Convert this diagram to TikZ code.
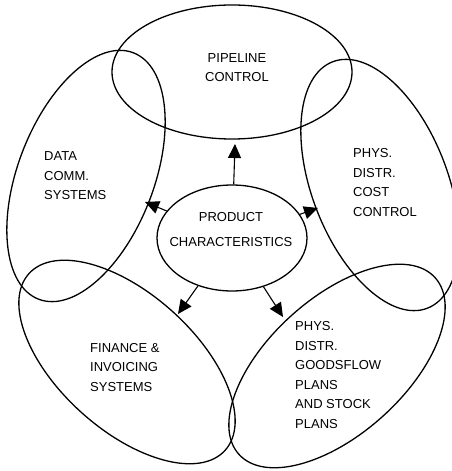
\documentclass[tikz,border=0pt]{standalone}
\usepackage{fontspec}
\setmainfont{Liberation Sans}
\usetikzlibrary{shapes.geometric,arrows.meta}
\begin{document}
\begin{tikzpicture}[x=1pt,y=1pt,
  oval/.style={draw, ellipse, line width=1.3pt, inner sep=0pt},
  lbl/.style={font=\fontsize{13}{19.5}\selectfont, inner sep=0pt, align=left},
  arr/.style={line width=1.1pt, -{Triangle[length=14pt,width=13pt]}}]
\useasboundingbox (0,0) rectangle (452,471);
% outer ovals
\node[oval, minimum width=240pt, minimum height=134pt] (pipe) at (232,399) {};
\node[oval, minimum width=264pt, minimum height=136pt, rotate=69] (data) at (86,295) {};
\node[oval, minimum width=264pt, minimum height=136pt, rotate=-69] (cost) at (380,286) {};
\node[oval, minimum width=264pt, minimum height=136pt, rotate=-42] (fin) at (127,109) {};
\node[oval, minimum width=264pt, minimum height=136pt, rotate=42] (goods) at (337,105) {};
% centre oval
\node[oval, minimum width=150pt, minimum height=106pt] (prod) at (232,233) {};
% texts
\node[lbl, align=center] (pipetxt) at (237,403.5) {PIPELINE\\CONTROL};
\node[lbl, anchor=west] (datatxt) at (44,295) {DATA\\COMM.\\SYSTEMS};
\node[lbl, anchor=west] (costtxt) at (353,288.5) {PHYS.\\DISTR.\\COST\\CONTROL};
\node[lbl, align=center, font=\fontsize{13}{25}\selectfont] (prodtxt) at (231,241.5) {PRODUCT\\CHARACTERISTICS};
\node[lbl, anchor=west] (fintxt) at (90,103.5) {FINANCE \&\\INVOICING\\SYSTEMS};
\node[lbl, anchor=west] (goodstxt) at (295,96) {PHYS.\\DISTR.\\GOODSFLOW\\PLANS\\AND STOCK\\PLANS};
% arrow tips
\coordinate (tUp) at (235,327);
\coordinate (tLeft) at (145,269);
\coordinate (tRight) at (318,263);
\coordinate (tBL) at (178,157);
\coordinate (tBR) at (283,154);
\draw[arr] (prod) -- (tUp);
\draw[arr] (prod) -- (tLeft);
\draw[arr] (prod) -- (tRight);
\draw[arr] (prod) -- (tBL);
\draw[arr] (prod) -- (tBR);
\end{tikzpicture}
\end{document}
